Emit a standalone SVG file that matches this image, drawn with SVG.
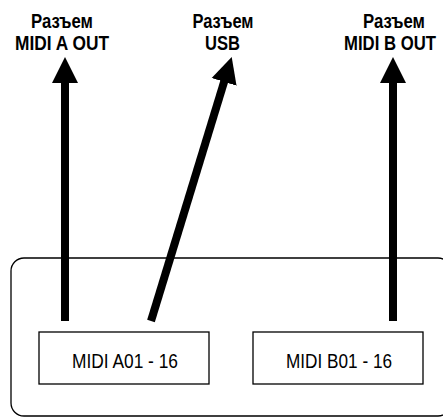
<svg xmlns="http://www.w3.org/2000/svg" width="443" height="418" viewBox="0 0 443 418">
<style>
.lbl{font-family:"Liberation Sans",Arial,sans-serif;font-weight:bold;font-size:19.5px;fill:#000;text-anchor:middle}
.box{fill:#fff;stroke:#000;stroke-width:1.3}
.bt{font-family:"Liberation Sans",Arial,sans-serif;font-size:20.5px;fill:#000;text-anchor:middle}
.arr{stroke:#000;stroke-width:8;fill:none;marker-end:url(#ah)}
</style>
<defs>
<marker id="ah" markerUnits="userSpaceOnUse" markerWidth="30" markerHeight="30" viewBox="0 -15 30 30" refX="1" refY="0" orient="auto">
<path d="M0,-13 L26,0 L0,13 z" fill="#000"/>
</marker>
</defs>
<g id="device">
<rect x="11" y="258" width="440" height="158" rx="13" ry="13" fill="none" stroke="#000" stroke-width="1.3"/>
</g>
<g id="midiA">
<rect class="box" x="39" y="332" width="170" height="52"/>
<text class="bt" x="125" y="368" textLength="106" lengthAdjust="spacingAndGlyphs">MIDI A01 - 16</text>
</g>
<g id="midiB">
<rect class="box" x="253" y="332" width="170" height="52"/>
<text class="bt" x="339" y="368" textLength="106" lengthAdjust="spacingAndGlyphs">MIDI B01 - 16</text>
</g>
<g id="outA">
<text class="lbl" x="62" y="27.5" textLength="62" lengthAdjust="spacingAndGlyphs">Разъем</text>
<text class="lbl" x="62" y="49.5" textLength="94" lengthAdjust="spacingAndGlyphs">MIDI A OUT</text>
</g>
<g id="usb">
<text class="lbl" x="223" y="27.5" textLength="61" lengthAdjust="spacingAndGlyphs">Разъем</text>
<text class="lbl" x="222.5" y="49.5" textLength="35" lengthAdjust="spacingAndGlyphs">USB</text>
</g>
<g id="outB">
<text class="lbl" x="394" y="27.5" textLength="62" lengthAdjust="spacingAndGlyphs">Разъем</text>
<text class="lbl" x="390" y="49.5" textLength="92" lengthAdjust="spacingAndGlyphs">MIDI B OUT</text>
</g>
<g id="connectors">
<line class="arr" x1="65" y1="321" x2="65" y2="82"/>
<line class="arr" x1="151" y1="321" x2="224.4" y2="80.9"/>
<line class="arr" x1="393" y1="321" x2="393" y2="82"/>
</g>
</svg>
